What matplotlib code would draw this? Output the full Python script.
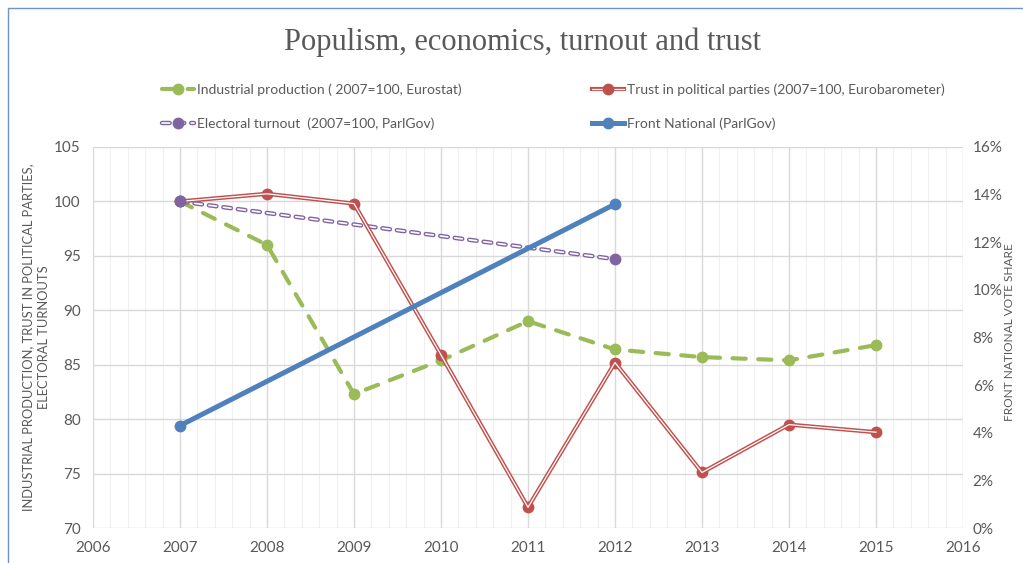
import matplotlib
matplotlib.use("Agg")
import matplotlib.pyplot as plt
from matplotlib.lines import Line2D
from matplotlib.legend_handler import HandlerTuple
from matplotlib.patches import Rectangle
from matplotlib.ticker import MultipleLocator, FuncFormatter

plt.rcParams["font.family"] = ["Lato", "DejaVu Sans"]
plt.rcParams["lines.scale_dashes"] = False

# series, indexed to 2007 = 100 except Front National (vote share, %)
years_ip = [2007, 2008, 2009, 2010, 2011, 2012, 2013, 2014, 2015]
industrial = [100.0, 96.0, 82.3, 85.4, 89.0, 86.4, 85.7, 85.4, 86.8]

years_trust = [2007, 2008, 2009, 2010, 2011, 2012, 2013, 2014, 2015]
trust = [100.0, 100.7, 99.8, 85.9, 71.9, 85.2, 75.1, 79.5, 78.8]

years_elec = [2007, 2012]
turnout = [100.0, 94.7]
front_national = [4.3, 13.6]

GREEN = "#9BBB59"
RED = "#C0504D"
PURPLE = "#8064A2"
BLUE = "#4F81BD"
TEXT = "#595959"
GRID = "#D9D9D9"
MINOR = "#F0F0F0"

fig = plt.figure(figsize=(10.23, 5.63), dpi=100)
ax = fig.add_axes([93 / 1023, 1 - 528 / 563, 870 / 1023, 381 / 563])
ax2 = ax.twinx()

# chart frame
fig.patches.append(Rectangle((8 / 1023, -0.1), 1.2, (1 - 8 / 563) + 0.1,
                             transform=fig.transFigure, fill=False,
                             edgecolor="#6F93C9", lw=1.0))

ax.set_xlim(2006, 2016)
ax.set_ylim(70, 105)
ax2.set_ylim(0, 16)
ax.xaxis.set_major_locator(MultipleLocator(1))
ax.xaxis.set_minor_locator(MultipleLocator(0.2))
ax.yaxis.set_major_locator(MultipleLocator(5))
ax2.yaxis.set_major_locator(MultipleLocator(2))
ax2.yaxis.set_major_formatter(FuncFormatter(lambda v, _: f"{v:.0f}%"))

ax.grid(which="minor", axis="x", color=MINOR, lw=0.8)
ax.grid(which="major", axis="both", color=GRID, lw=1.0)
ax.set_axisbelow(True)
for a in (ax, ax2):
    for s in a.spines.values():
        s.set_visible(False)
    a.tick_params(which="both", length=0, labelsize=11, colors=TEXT)
ax.tick_params(axis="x", pad=9)
ax.tick_params(axis="y", pad=9)
ax2.tick_params(axis="y", pad=7)

# industrial production: long rounded dashes
green_kw = dict(color=GREEN, lw=3.0, dashes=(9.5, 9.0), dash_capstyle="round")
ax.plot(years_ip, industrial, marker="o", ms=7.5, zorder=3, **green_kw)

# trust: double (compound) line
ax.plot(years_trust, trust, color=RED, lw=3.0, marker="o", ms=7.5, zorder=4)
ax.plot(years_trust, trust, color="white", lw=0.9, zorder=4.5)

# turnout: outlined short dashes
purple_kw = dict(lw=3.2, dashes=(5.5, 5.0), dash_capstyle="round")
white_dash = dict(color="white", lw=1.2, dashes=(5.5, 5.0), dash_capstyle="round")
ax.plot(years_elec, turnout, color=PURPLE, zorder=3, **purple_kw)
ax.plot(years_elec, turnout, zorder=3.5, **white_dash)
ax.plot(years_elec, turnout, ls="none", marker="o", ms=7.5, color=PURPLE, zorder=5)

# Front National vote share on the right axis
ax2.plot(years_elec, front_national, color=BLUE, lw=3.6, marker="o", ms=7.5,
         solid_capstyle="round")

ax.set_ylabel("INDUSTRIAL PRODUCTION, TRUST IN POLITICAL PARTIES,\nELECTORAL TURNOUTS",
              fontsize=9.3, color=TEXT, linespacing=1.35)
ax.yaxis.set_label_coords(-0.05, 0.5)
ax2.set_ylabel("FRONT NATIONAL VOTE SHARE", fontsize=8.6, color=TEXT)
ax2.yaxis.set_label_coords(1.047, 0.514)

fig.text(522 / 1023, 1 - 42 / 563, "Populism, economics, turnout and trust",
         ha="center", va="center", fontsize=22, color=TEXT,
         family=["Liberation Serif", "DejaVu Serif"])

# legend handles, pieces overlaid
dot = dict(ls="none", marker="o", ms=7.5)
h_green = (Line2D([], [], **green_kw), Line2D([], [], color=GREEN, **dot))
h_red = (Line2D([], [], color=RED, lw=3.0), Line2D([], [], color="white", lw=0.9),
         Line2D([], [], color=RED, **dot))
h_purple = (Line2D([], [], color=PURPLE, **purple_kw), Line2D([], [], **white_dash),
            Line2D([], [], color=PURPLE, **dot))
h_blue = (Line2D([], [], color=BLUE, lw=3.6), Line2D([], [], color=BLUE, **dot))

leg_kw = dict(loc="upper left", frameon=False, fontsize=10, labelcolor=TEXT,
              handlelength=2.3, handletextpad=0.2, labelspacing=1.55, borderaxespad=0,
              borderpad=0, handler_map={tuple: HandlerTuple(ndivide=1, pad=0)})
fig.legend([h_green, h_purple],
           ["Industrial production ( 2007=100, Eurostat)", "Electoral turnout  (2007=100, ParlGov)"],
           bbox_to_anchor=(162 / 1023, 1 - 83 / 563), **leg_kw)
fig.legend([h_red, h_blue],
           ["Trust in political parties (2007=100, Eurobarometer)", "Front National (ParlGov)"],
           bbox_to_anchor=(592 / 1023, 1 - 83 / 563), **leg_kw)

fig.savefig("out.png", dpi=100)
